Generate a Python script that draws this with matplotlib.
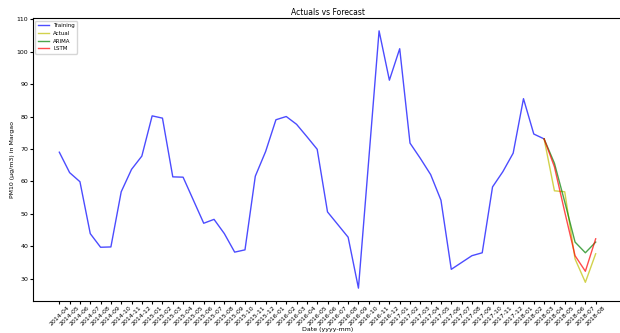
import matplotlib
matplotlib.use("Agg")
import matplotlib.pyplot as plt

# monthly PM10 averages, Margao
months = ['2014-04', '2014-05', '2014-06', '2014-07', '2014-08', '2014-09', '2014-10', '2014-11', '2014-12',
          '2015-01', '2015-02', '2015-03', '2015-04', '2015-05', '2015-06', '2015-07', '2015-08', '2015-09',
          '2015-10', '2015-11', '2015-12', '2016-01', '2016-02', '2016-03', '2016-04', '2016-05', '2016-06',
          '2016-07', '2016-08', '2016-09', '2016-10', '2016-11', '2016-12', '2017-01', '2017-02', '2017-03',
          '2017-04', '2017-05', '2017-06', '2017-07', '2017-08', '2017-09', '2017-10', '2017-11', '2017-12',
          '2018-01', '2018-02', '2018-03']
training = [69.0, 62.7, 59.9, 43.9, 39.7, 39.8, 56.8, 63.7, 67.8, 80.2, 79.5, 61.4,
            61.3, 54.2, 47.1, 48.3, 43.9, 38.2, 38.9, 61.6, 69.2, 79.0, 80.0, 77.6,
            73.8, 69.9, 50.6, 46.7, 42.8, 27.1, 66.7, 106.4, 91.2, 100.9, 71.8, 67.1,
            62.1, 54.2, 32.9, 35.0, 37.1, 38.0, 58.3, 63.0, 68.7, 85.5, 74.6, 73.1]

test_months = ['2018-03', '2018-04', '2018-05', '2018-06', '2018-07', '2018-08']
actual = [73.1, 57.1, 56.8, 36.1, 28.9, 37.7]
arima = [73.1, 65.6, 53.7, 41.3, 38.0, 41.3]
lstm = [73.1, 64.5, 50.6, 37.1, 32.3, 42.3]

fig = plt.figure(figsize=(6.2, 3.33), dpi=100)
ax = fig.add_axes([32.5/620, 1-301/333, 590/620, 283/333])

ax.plot(months, training, color='b', alpha=0.7, lw=1, label='Training')
ax.plot(test_months, actual, color='y', alpha=0.7, lw=1, label='Actual')
ax.plot(test_months, arima, color='g', alpha=0.7, lw=1, label='ARIMA')
ax.plot(test_months, lstm, color='r', alpha=0.7, lw=1, label='LSTM')

ax.set_title('Actuals vs Forecast', fontsize=5.5, pad=2)
ax.set_xlabel('Date (yyyy-mm)', fontsize=4.5, labelpad=0)
ax.set_ylabel('PM10 (µg/m3) in Margao', fontsize=4.5, labelpad=1)
ax.tick_params(axis='both', labelsize=4.5, length=2, pad=1)
plt.setp(ax.get_xticklabels(), rotation=45)
ax.legend(loc='upper left', fontsize=4)

fig.savefig('out.png', dpi=100)
